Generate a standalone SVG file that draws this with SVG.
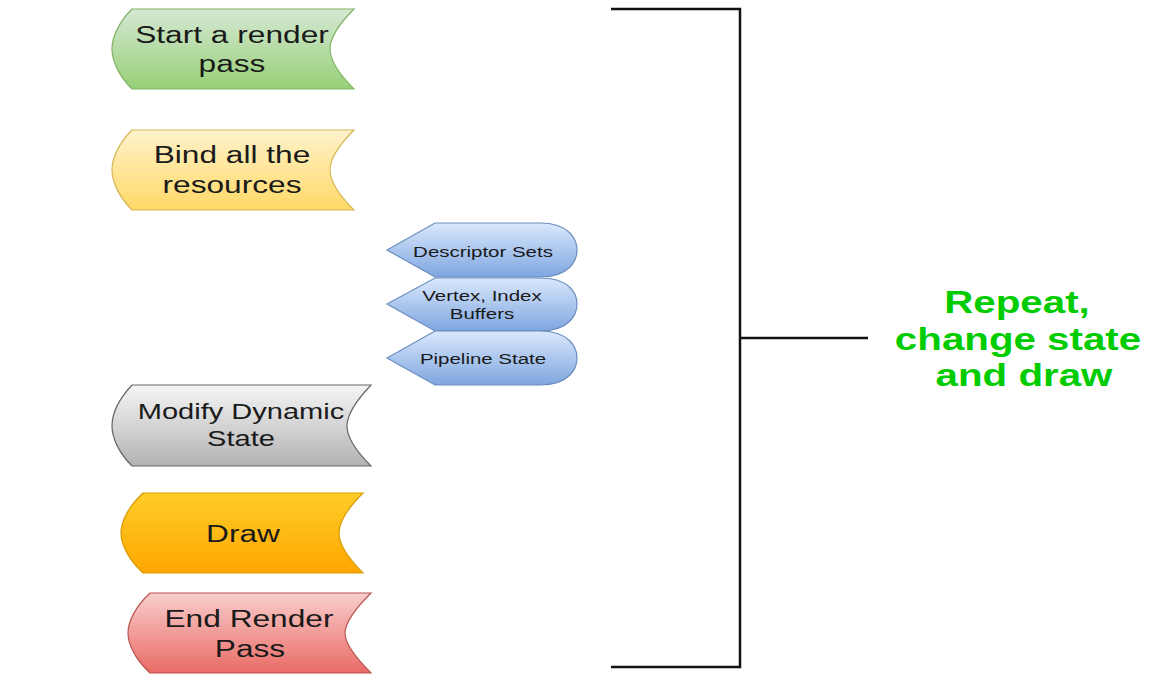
<svg xmlns="http://www.w3.org/2000/svg" width="1154" height="676" viewBox="0 0 1154 676">
<defs>
<linearGradient id="gGreen" x1="0" y1="0" x2="0" y2="1"><stop offset="0" stop-color="#d5e8d4"/><stop offset="1" stop-color="#97d077"/></linearGradient>
<linearGradient id="gYellow" x1="0" y1="0" x2="0" y2="1"><stop offset="0" stop-color="#fff2cc"/><stop offset="1" stop-color="#ffd966"/></linearGradient>
<linearGradient id="gGray" x1="0" y1="0" x2="0" y2="1"><stop offset="0" stop-color="#f5f5f5"/><stop offset="1" stop-color="#b3b3b3"/></linearGradient>
<linearGradient id="gOrange" x1="0" y1="0" x2="0" y2="1"><stop offset="0" stop-color="#ffcd28"/><stop offset="1" stop-color="#ffa500"/></linearGradient>
<linearGradient id="gRed" x1="0" y1="0" x2="0" y2="1"><stop offset="0" stop-color="#f8cecc"/><stop offset="1" stop-color="#ea6b66"/></linearGradient>
<linearGradient id="gBlue" x1="0" y1="0" x2="0" y2="1"><stop offset="0" stop-color="#dae8fc"/><stop offset="1" stop-color="#7ea6e0"/></linearGradient>
</defs>
<style>
text{font-family:"Liberation Sans",Arial,sans-serif;fill:#1a1a1a;text-anchor:middle}
.big{font-size:24px}
.mid{font-size:22px}
.small{font-size:15.5px}
.green{font-size:31px;font-weight:bold;fill:#00cc00}
.br{fill:none;stroke:#111;stroke-width:2.5}
</style>
<rect width="1154" height="676" fill="#ffffff"/>
<g id="start-render-pass">
<path d="M132,9 L354,9 C336,27 330,40 330,49 C330,58 336,71 354,89 L132,89 C118,75 112,60 112,49 C112,38 118,23 132,9 Z" fill="url(#gGreen)" stroke="#82b366" stroke-width="1.2"/>
<text class="big" transform="translate(232,43) scale(1.32,1)">Start a render</text>
<text class="big" transform="translate(232,72) scale(1.32,1)">pass</text>
</g>
<g id="bind-resources">
<path d="M132,130 L354,130 C336,148 330,161 330,170 C330,179 336,192 354,210 L132,210 C118,196 112,181 112,170 C112,159 118,144 132,130 Z" fill="url(#gYellow)" stroke="#d6b656" stroke-width="1.2"/>
<text class="big" transform="translate(232,163) scale(1.32,1)">Bind all the</text>
<text class="big" transform="translate(232,193) scale(1.32,1)">resources</text>
</g>
<g id="descriptor-sets">
<path d="M387,250 L435,223 L540,223 C570,223 577,240 577,250 C577,260 570,277 540,277 L435,277 Z" fill="url(#gBlue)" stroke="#6c8ebf" stroke-width="1.2"/>
<text class="small" transform="translate(483,257) scale(1.32,1)">Descriptor Sets</text>
</g>
<g id="vertex-index-buffers">
<path d="M387,304 L435,278 L540,278 C570,278 577,294 577,304 C577,314 570,331 540,331 L435,331 Z" fill="url(#gBlue)" stroke="#6c8ebf" stroke-width="1.2"/>
<text class="small" transform="translate(482,301) scale(1.32,1)">Vertex, Index</text>
<text class="small" transform="translate(482,319) scale(1.32,1)">Buffers</text>
</g>
<g id="pipeline-state">
<path d="M387,358 L435,331 L540,331 C570,331 577,348 577,358 C577,368 570,385 540,385 L435,385 Z" fill="url(#gBlue)" stroke="#6c8ebf" stroke-width="1.2"/>
<text class="small" transform="translate(483,364) scale(1.32,1)">Pipeline State</text>
</g>
<g id="modify-dynamic-state">
<path d="M132,385 L371,385 C353,404 347,417 347,426 C347,435 353,448 371,466 L132,466 C118,452 112,437 112,426 C112,415 118,400 132,385 Z" fill="url(#gGray)" stroke="#666666" stroke-width="1.2"/>
<text class="mid" transform="translate(241,419) scale(1.32,1)">Modify Dynamic</text>
<text class="mid" transform="translate(241,446) scale(1.32,1)">State</text>
</g>
<g id="draw">
<path d="M143,493 L363,493 C345,511 339,524 339,533 C339,542 345,555 363,573 L143,573 C128,559 121,544 121,533 C121,522 128,507 143,493 Z" fill="url(#gOrange)" stroke="#d79b00" stroke-width="1.2"/>
<text class="big" transform="translate(243,542) scale(1.32,1)">Draw</text>
</g>
<g id="end-render-pass">
<path d="M150,593 L371,593 C353,611 345,624 345,633 C345,642 353,655 371,673 L150,673 C135,659 128,644 128,633 C128,622 135,607 150,593 Z" fill="url(#gRed)" stroke="#b85450" stroke-width="1.2"/>
<text class="big" transform="translate(249,627) scale(1.32,1)">End Render</text>
<text class="big" transform="translate(250,657) scale(1.32,1)">Pass</text>
</g>
<g id="connectors">
<path class="br" d="M611,9 L740,9 L740,667 L611,667"/>
<path class="br" d="M740,338 L868,338"/>
</g>
<g id="repeat-label">
<text class="green" transform="translate(1017,313) scale(1.3,1)">Repeat,</text>
<text class="green" transform="translate(1018,350) scale(1.3,1)">change state</text>
<text class="green" transform="translate(1024,386) scale(1.3,1)">and draw</text>
</g>
</svg>
